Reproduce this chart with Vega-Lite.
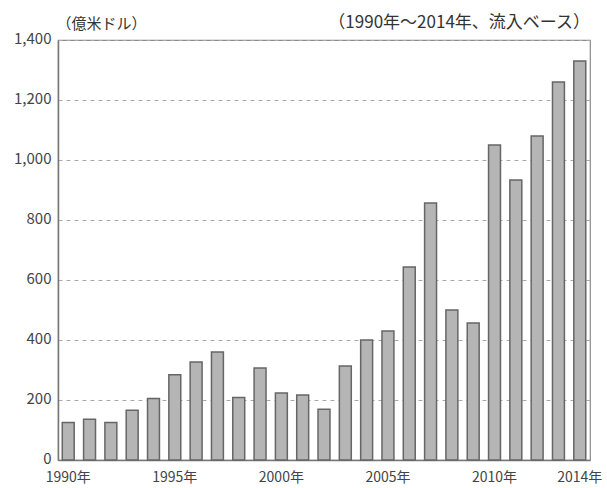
{
  "$schema": "https://vega.github.io/schema/vega-lite/v6.json",
  "width": 532,
  "height": 420,
  "autosize": {"type": "none"},
  "padding": {"left": 58, "top": 40, "right": 17, "bottom": 28},
  "background": "white",
  "config": {
    "font": "Noto Sans CJK JP",
    "view": {"stroke": "#8a8a8a", "strokeWidth": 1.2},
    "title": {"font": "Noto Sans CJK JP"}
  },
  "title": {
    "text": "（1990年～2014年、流入ベース）",
    "anchor": "end",
    "frame": "group",
    "fontSize": 17,
    "fontWeight": "normal",
    "color": "#333",
    "offset": -16
  },
  "data": {
    "values": [
      {"year": 1990, "value": 125},
      {"year": 1991, "value": 136},
      {"year": 1992, "value": 125},
      {"year": 1993, "value": 166},
      {"year": 1994, "value": 205},
      {"year": 1995, "value": 284},
      {"year": 1996, "value": 327},
      {"year": 1997, "value": 360},
      {"year": 1998, "value": 208},
      {"year": 1999, "value": 307},
      {"year": 2000, "value": 223},
      {"year": 2001, "value": 217},
      {"year": 2002, "value": 169},
      {"year": 2003, "value": 313},
      {"year": 2004, "value": 400},
      {"year": 2005, "value": 430},
      {"year": 2006, "value": 643},
      {"year": 2007, "value": 857},
      {"year": 2008, "value": 500},
      {"year": 2009, "value": 457},
      {"year": 2010, "value": 1050},
      {"year": 2011, "value": 933},
      {"year": 2012, "value": 1080},
      {"year": 2013, "value": 1260},
      {"year": 2014, "value": 1330}
    ]
  },
  "mark": {"type": "bar", "fill": "#b5b5b5", "stroke": "#666666", "strokeWidth": 1.5},
  "encoding": {
    "x": {
      "field": "year",
      "type": "ordinal",
      "scale": {"paddingInner": 0.44, "paddingOuter": 0.2},
      "axis": {
        "title": null,
        "values": [1990, 1995, 2000, 2005, 2010, 2014],
        "labelExpr": "datum.label + '年'",
        "labelAngle": 0,
        "labelFontSize": 14,
        "labelColor": "#444",
        "labelPadding": 10,
        "ticks": false,
        "domainColor": "#777",
        "domainWidth": 1.5
      }
    },
    "y": {
      "field": "value",
      "type": "quantitative",
      "scale": {"domain": [0, 1400], "nice": false},
      "axis": {
        "title": "（億米ドル）",
        "titleAngle": 0,
        "titleAlign": "left",
        "titleBaseline": "alphabetic",
        "titleX": -2,
        "titleY": -12,
        "titleFontSize": 15,
        "titleFontWeight": "normal",
        "titleColor": "#333",
        "values": [0, 200, 400, 600, 800, 1000, 1200, 1400],
        "format": ",d",
        "labelFontSize": 15,
        "labelColor": "#444",
        "labelPadding": 7,
        "labelBaseline": "middle",
        "labelOffset": -2,
        "ticks": false,
        "domainColor": "#777",
        "domainWidth": 1.5,
        "grid": true,
        "gridDash": [4, 4],
        "gridColor": "#aaa",
        "gridWidth": 1
      }
    }
  }
}
